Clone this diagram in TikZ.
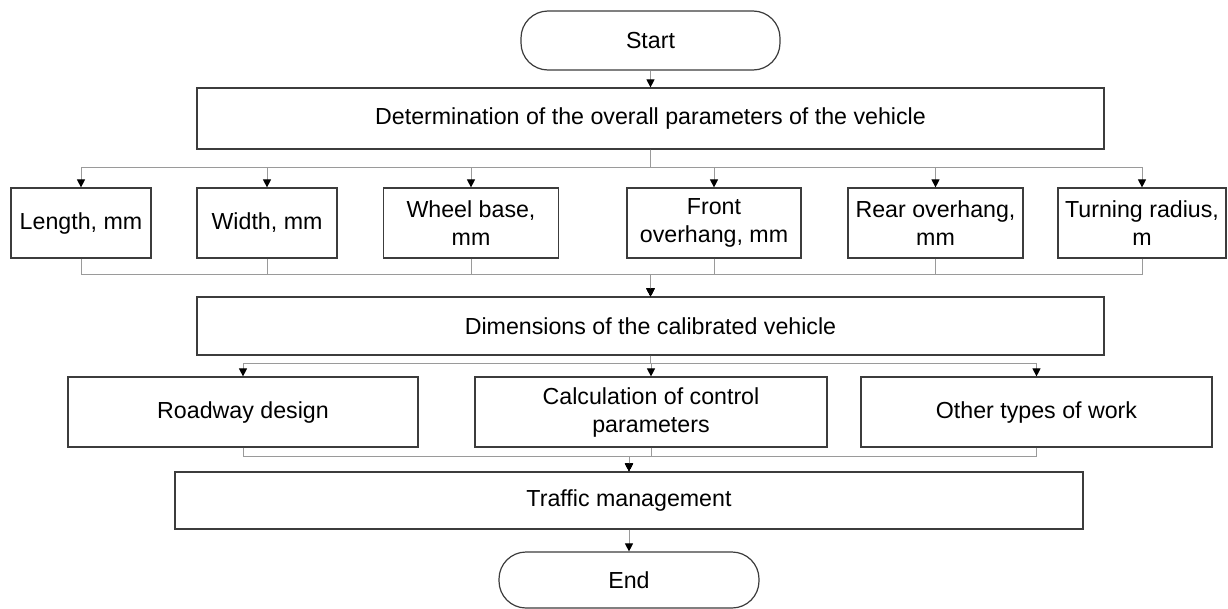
\documentclass[tikz,border=0pt]{standalone}
\usepackage{fontspec}
\setmainfont{Liberation Sans}
\usetikzlibrary{arrows.meta}
\definecolor{boxline}{HTML}{3C3C3C}
\definecolor{connline}{HTML}{9A9A9A}
\begin{document}
\begin{tikzpicture}[x=1pt,y=-1pt,
  every node/.style={font=\fontsize{23.2}{28}\selectfont, align=center, inner sep=0pt},
  proc/.style={draw=boxline, line width=1.2pt, fill=white, rectangle},
  term/.style={draw=boxline, line width=1.2pt, fill=white, rectangle, rounded corners=27pt},
  conn/.style={draw=connline, line width=1pt, -{Triangle[width=8pt,length=8pt,color=black,fill=black]}},
  plain/.style={draw=connline, line width=1pt}
]
\useasboundingbox (0,0) rectangle (1228,608);

\node[term, minimum width=259pt, minimum height=59pt] (start) at (650.5,40.5) {Start};
\node[proc, minimum width=907pt, minimum height=61pt] (det) at (650.5,118.5) {Determination of the overall parameters of the vehicle};

\node[proc, minimum width=140pt, minimum height=70pt] (len) at (81,223) {Length, mm};
\node[proc, minimum width=140pt, minimum height=70pt] (wid) at (267,223) {Width, mm};
\node[proc, minimum width=175pt, minimum height=70pt] (wb) at (471,223) {Wheel base,\\mm};
\node[proc, minimum width=174pt, minimum height=70pt] (fo) at (714,223) {Front\\overhang, mm};
\node[proc, minimum width=175pt, minimum height=70pt] (ro) at (935.5,223) {Rear overhang,\\mm};
\node[proc, minimum width=168pt, minimum height=70pt] (tr) at (1142,223) {Turning radius,\\m};

\node[proc, minimum width=907pt, minimum height=58pt] (dim) at (650.5,326) {Dimensions of the calibrated vehicle};

\node[proc, minimum width=350pt, minimum height=70pt] (road) at (243,412) {Roadway design};
\node[proc, minimum width=352pt, minimum height=70pt] (calc) at (651,412) {Calculation of control\\parameters};
\node[proc, minimum width=351pt, minimum height=70pt] (other) at (1036.5,412) {Other types of work};

\node[proc, minimum width=908pt, minimum height=57pt] (traf) at (629,500.5) {Traffic management};
\node[term, minimum width=260pt, minimum height=56pt] (end) at (629,580) {End};

% connectors
\draw[conn] (start) -- (det);

\foreach \b in {len,wid,wb,fo,ro,tr}{
  \draw[conn] (det.south) -- ++(0,18) -| (\b.north);
}
\foreach \b in {len,wid,wb,fo,ro,tr}{
  \draw[conn] (\b.south) -- ++(0,16) -| (dim.north);
}
\foreach \b in {road,calc,other}{
  \draw[conn] (dim.south) -- ++(0,8) -| (\b.north);
}
\foreach \b in {road,calc,other}{
  \draw[conn] (\b.south) -- ++(0,9) -| (traf.north);
}
\draw[conn] (traf) -- (end);
\end{tikzpicture}
\end{document}
